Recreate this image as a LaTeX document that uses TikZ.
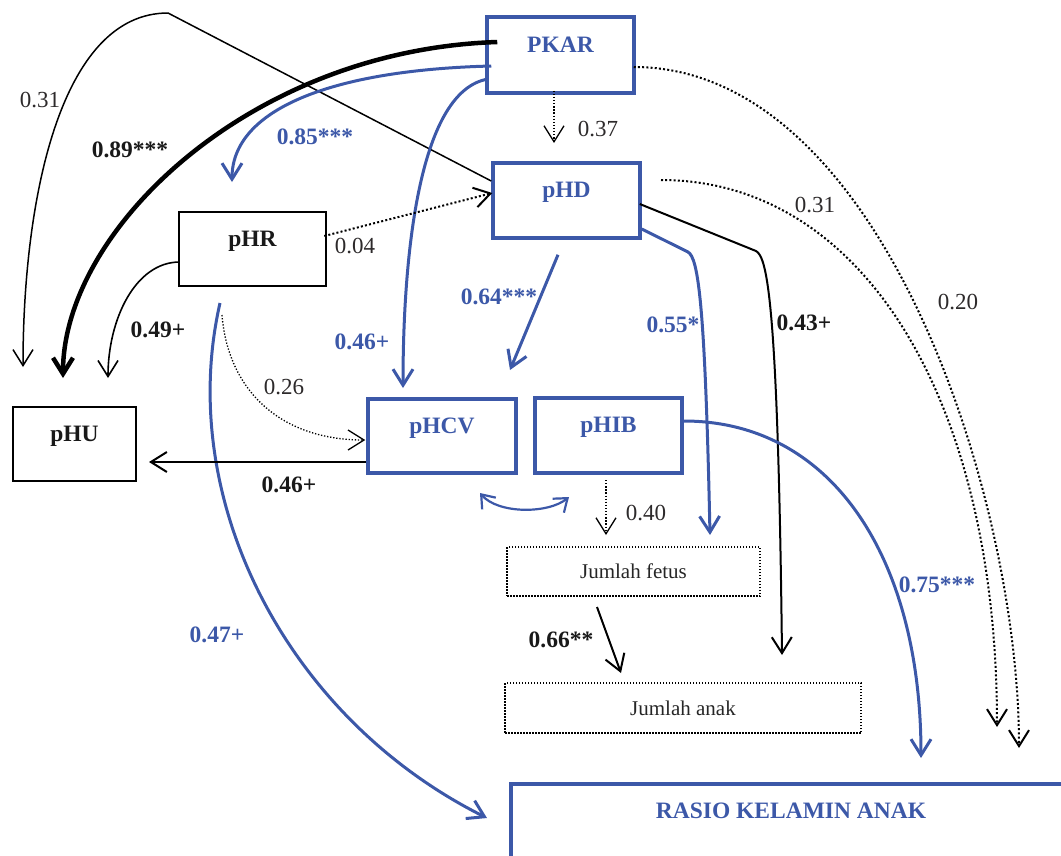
\documentclass[tikz,border=0pt]{standalone}
\usepackage{fontspec}
\setmainfont{Liberation Serif}
\usetikzlibrary{arrows.meta,calc}
\definecolor{pblue}{RGB}{60,88,168}
\definecolor{numgray}{RGB}{45,42,43}
\begin{document}
\begin{tikzpicture}[x=1pt,y=-1pt,
  box/.style={rectangle, inner sep=0pt, font=\fontsize{23.5}{26}\selectfont\bfseries, text height=16pt, text depth=22pt},
  bluebox/.style={box, draw=pblue, text=pblue, line width=3.5pt},
  blackbox/.style={box, draw=black, text=black!90, line width=2.5pt},
  dotbox/.style={rectangle, draw=black, line width=1.4pt, dash pattern=on 1.5pt off 1.5pt, inner sep=0pt, font=\fontsize{21}{24}\selectfont, text=black!85},
  num/.style={font=\fontsize{23}{26}\selectfont, text=numgray, inner sep=0pt},
  bnum/.style={font=\fontsize{23.5}{26}\selectfont\bfseries, text=black!90, inner sep=0pt},
  blnum/.style={bnum, text=pblue},
  tip/.style={-{Straight Barb[length=16pt,width=20pt]}},
  bl/.style={draw=pblue, line width=3pt, tip},
  bk/.style={draw=black, line width=1.6pt, tip},
  dt/.style={draw=black, line width=2pt, dash pattern=on 2pt off 2.2pt, tip},
  dtf/.style={draw=black, line width=1.3pt, dash pattern=on 1.3pt off 1.8pt, tip}
]
\useasboundingbox (0,0) rectangle (1061,855);
\clip (0,0) rectangle (1061,855);

% boxes
\node[bluebox, minimum width=147pt, minimum height=76pt] (pkar) at (560.5,55) {PKAR};
\node[bluebox, minimum width=147pt, minimum height=75pt] (phd) at (566.5,200.5) {pHD};
\node[blackbox, minimum width=147pt, minimum height=74pt] (phr) at (252.5,249) {pHR};
\node[blackbox, minimum width=123pt, minimum height=74pt] (phu) at (74.5,444) {pHU};
\node[bluebox, minimum width=148pt, minimum height=74pt] (phcv) at (442,436) {pHCV};
\node[bluebox, minimum width=147pt, minimum height=75pt] (phib) at (608.5,435.5) {pHIB};
\node[dotbox, minimum width=253pt, minimum height=49pt] (fetus) at (633.5,571.5) {Jumlah fetus};
\node[dotbox, minimum width=356pt, minimum height=50pt] (anak) at (683,708) {Jumlah anak};
\node[bluebox, minimum width=560pt, minimum height=100pt, text depth=48pt] (rasio) at (791,834) {RASIO KELAMIN ANAK};

% free ends
\coordinate (top31) at (168,13);
\coordinate (a31) at (23,367);
\coordinate (a89) at (63,378);
\coordinate (a85) at (232,182);
\coordinate (a46b) at (403,388);
\coordinate (a37) at (554,143);
\coordinate (a20) at (1019,748);
\coordinate (s31) at (661,180);
\coordinate (a31b) at (997,727);
\coordinate (a49) at (108,378);
\coordinate (s26) at (222,315);
\coordinate (s47) at (220,303);
\coordinate (a47) at (487,818);
\coordinate (a46k) at (149,462);
\coordinate (c1) at (480,493);
\coordinate (c2) at (569,497);
\coordinate (a64) at (510,370);
\coordinate (k55) at (688,252);
\coordinate (a55) at (710,535);
\coordinate (k43) at (756,251);
\coordinate (a43) at (782,655);
\coordinate (a75) at (921,758);
\coordinate (s40) at (606,480);
\coordinate (a40) at (606,535);
\coordinate (s66) at (597,607);
\coordinate (a66) at (621,673);

% connectors
\draw[bk, line width=1.5pt] ($(phd.west)+(0,-19.5)$) -- (top31) .. controls (60,13) and (23,200) .. (a31);
\draw[bk, line width=4.5pt] ($(pkar.west)+(12,-13)$) .. controls (250,50) and (63,230) .. (a89);
\draw[bl] ($(pkar.west)+(6,11)$) .. controls (330,70) and (232,110) .. (a85);
\draw[bl] ($(pkar.west)+(3,24)$) .. controls (420,90) and (403,250) .. (a46b);
\draw[dtf] ($(pkar.south)+(-6.5,-4)$) -- (a37);
\draw[dt] ($(pkar.east)+(-2,12)$) .. controls (882,67) and (1019,498) .. (a20);
\draw[dt] (s31) .. controls (861,180) and (997,397) .. (a31b);
\draw[dt] ($(phr.east)+(-3,-13)$) -- ($(phd.west)+(1,-7.5)$);
\draw[bk] ($(phr.west)+(2,13)$) .. controls (135,262) and (108,320) .. (a49);
\draw[dtf] (s26) .. controls (228,390) and (280,440) .. ($(phcv.west)+(-1,4)$);
\draw[bl] (s47) .. controls (175,500) and (287,718) .. (a47);
\draw[bk, line width=2pt] ($(phcv.west)+(0,26)$) -- (a46k);
\draw[draw=pblue, line width=2.2pt, {Straight Barb[length=12pt,width=18pt]}-{Straight Barb[length=12pt,width=18pt]}] (c1) .. controls (498,514) and (548,514) .. (c2);
\draw[bl] ($(phd.south)+(-8.5,15)$) -- (a64);
\draw[bl] ($(phd.east)+(0,28.5)$) -- (k55) .. controls (698,258) and (705,300) .. (a55);
\draw[bk, line width=2pt] ($(phd.east)+(-2,3.5)$) -- (k43) .. controls (767,257) and (778,300) .. (a43);
\draw[bl] ($(phib.east)+(0,-14.5)$) .. controls (832,421) and (921,558) .. (a75);
\draw[dtf] (s40) -- (a40);
\draw[bk, line width=2pt] (s66) -- (a66);

% labels
\node[num] (l31a) at (40,100) {0.31};
\node[bnum] (l89) at (130,150) {0.89***};
\node[blnum] (l85) at (315,137) {0.85***};
\node[num] (l37) at (598,129) {0.37};
\node[num] (l31b) at (815,205) {0.31};
\node[num] (l20) at (958,302) {0.20};
\node[num] (l04) at (355,246) {0.04};
\node[bnum] (l49) at (158,330) {0.49+};
\node[blnum] (l64) at (499,297) {0.64***};
\node[blnum] (l46b) at (362,342) {0.46+};
\node[blnum] (l55) at (673,325) {0.55*};
\node[bnum] (l43) at (804,323) {0.43+};
\node[num] (l26) at (284,387) {0.26};
\node[bnum] (l46k) at (289,485) {0.46+};
\node[num] (l40) at (646,513) {0.40};
\node[blnum] (l75) at (937,585) {0.75***};
\node[blnum] (l47) at (217,635) {0.47+};
\node[bnum] (l66) at (561,640) {0.66**};
\end{tikzpicture}
\end{document}
